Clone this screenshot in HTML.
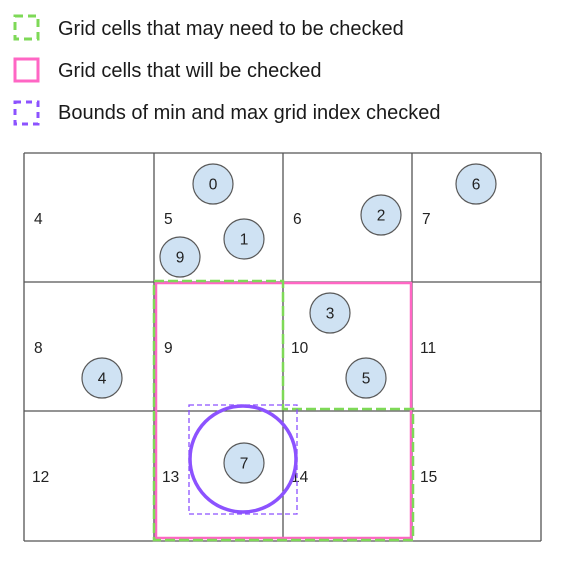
<!DOCTYPE html>
<html><head><meta charset="utf-8"><style>
html,body{margin:0;padding:0;background:#fff;width:575px;height:577px;overflow:hidden}
svg{display:block}
.leg{font-family:"Liberation Sans",sans-serif;font-size:20px;fill:#1a1a1a}
.cl{font-family:"Liberation Sans",sans-serif;font-size:15.5px;fill:#222}
.dl{font-family:"Liberation Sans",sans-serif;font-size:15.5px;fill:#222;text-anchor:middle;dominant-baseline:central}
</style></head><body>
<svg width="575" height="577">
<g>
<rect x="15" y="16" width="23" height="23" fill="none" stroke="#7ed957" stroke-width="3" stroke-dasharray="8,5"/>
<text class="leg" x="58" y="35">Grid cells that may need to be checked</text>
<rect x="15" y="59" width="23" height="22" fill="none" stroke="#ff66c4" stroke-width="3"/>
<text class="leg" x="58" y="77">Grid cells that will be checked</text>
<rect x="15" y="102" width="23" height="22" fill="none" stroke="#8c52ff" stroke-width="3" stroke-dasharray="6,5"/>
<text class="leg" x="58" y="119">Bounds of min and max grid index checked</text>
</g>
<g id="grid" stroke="#555" stroke-width="1.3"></g>
<g id="labels"></g>
<rect x="156" y="283" width="255" height="255" fill="none" stroke="#ff66c4" stroke-width="2.5"/>
<path d="M154,281 H283 V409 H413 V540 H154 Z" fill="none" stroke="#7ed957" stroke-width="2.5" stroke-dasharray="10,4"/>
<rect x="189" y="405" width="108" height="109" fill="none" stroke="#8c52ff" stroke-width="1.3" stroke-dasharray="5,3"/>
<g id="dots"></g>
<circle cx="243" cy="459" r="53" fill="none" stroke="#8c52ff" stroke-width="3.5"/>
</svg>
<script>
const xs=[24,154,283,412,541], ys=[153,282,411,541];
const cellIds=[4,5,6,7,8,9,10,11,12,13,14,15];
const pointIds=[0,1,2,6,9,3,4,5,7];
const pointX=[213,244,381,476,180,330,102,366,244];
const pointY=[184,239,215,184,257,313,378,378,463];
const NS="http://www.w3.org/2000/svg";
const g=document.getElementById('grid');
xs.forEach(x=>{const l=document.createElementNS(NS,'line');l.setAttribute('x1',x);l.setAttribute('x2',x);l.setAttribute('y1',ys[0]);l.setAttribute('y2',ys[3]);

g.appendChild(l);});
ys.forEach(y=>{const l=document.createElementNS(NS,'line');l.setAttribute('y1',y);l.setAttribute('y2',y);l.setAttribute('x1',xs[0]);l.setAttribute('x2',xs[4]);

g.appendChild(l);});
const lb=document.getElementById('labels');
cellIds.forEach((id,i)=>{const c=i%4,r=Math.floor(i/4);const t=document.createElementNS(NS,'text');t.setAttribute('class','cl');
t.setAttribute('x',xs[c]+(id>=10?8:10));t.setAttribute('y',ys[r]+71);t.textContent=id;

lb.appendChild(t);});
const d=document.getElementById('dots');
pointIds.forEach((id,i)=>{const c=document.createElementNS(NS,'circle');c.setAttribute('cx',pointX[i]);c.setAttribute('cy',pointY[i]);c.setAttribute('r',20);
c.setAttribute('fill','#cfe2f3');c.setAttribute('stroke','#595959');c.setAttribute('stroke-width','1.2');

d.appendChild(c);
const t=document.createElementNS(NS,'text');t.setAttribute('class','dl');t.setAttribute('x',pointX[i]);t.setAttribute('y',pointY[i]+1);t.textContent=id;

d.appendChild(t);});
</script>
</body></html>
